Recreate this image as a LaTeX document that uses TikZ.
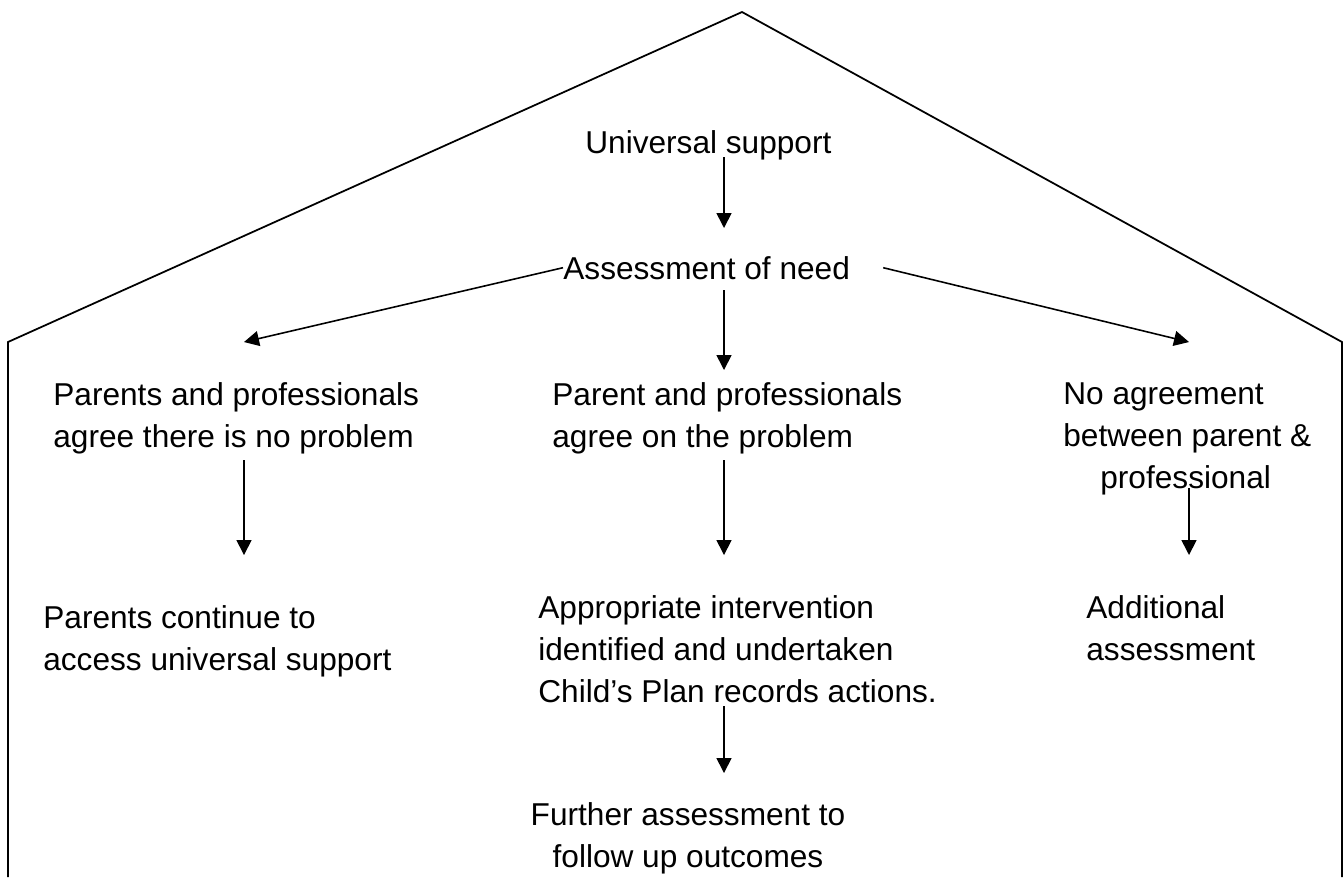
\documentclass[tikz,border=0pt]{standalone}
\usepackage{fontspec}
\setmainfont{Liberation Sans}
\usetikzlibrary{arrows.meta}

\begin{document}
\begin{tikzpicture}[
    x=0.02cm, y=-0.02cm,
    txt/.style={inner sep=0pt, align=left, anchor=base west,
                font=\fontsize{18}{23.9}\selectfont},
    arr/.style={-{Triangle[length=0.3cm, width=0.3cm]}, line width=0.9pt},
    house/.style={line width=1pt, line join=miter},
]
\useasboundingbox (0,0) rectangle (1344,877);

% House outline
\draw[house] (8,877) -- (8,342) -- (742,12) -- (1342,342) -- (1342,877);

% Arrow columns
\coordinate (lx) at (244,0);
\coordinate (mx) at (724,0);
\coordinate (rx) at (1189,0);

% Top
\node[txt] (us) at (585,153) {Universal support};
\node[txt] (aon) at (563,279) {Assessment of need};

% Outcomes of the assessment (placed at last baseline)
\node[txt] (pp) at (53,447) {Parents and professionals\\agree there is no problem};
\node[txt] (pa) at (552,447) {Parent and professionals\\agree on the problem};
\node[txt] (na) at (1063,488) {No agreement\\between parent \&\\\hspace*{0.74cm}professional};

% Follow-on steps
\node[txt] (pc) at (43,670) {Parents continue to\\access universal support};
\node[txt] (ai) at (538,702) {Appropriate intervention\\identified and undertaken\\Child’s Plan records actions.};
\node[txt] (ad) at (1086,660) {Additional\\assessment};
\node[txt, align=center, anchor=base] (fa) at (688,867) {Further assessment to\\follow up outcomes};

% Arrows
\draw[arr] ([yshift=-0.08cm]us.base -| mx) -- ([yshift=1.02cm]aon.base -| mx);
\draw[arr] (aon.west) -- ([yshift=2.1cm]pp.base -| lx);
\draw[arr] ([xshift=0.66cm]aon.east) -- ([yshift=2.92cm]na.base -| rx);
\draw[arr] ([yshift=-0.22cm]aon.base -| mx) -- ([yshift=1.54cm]pa.base -| mx);
\draw[arr] ([yshift=-0.26cm]pp.base -| lx) -- ([yshift=2.3cm]pc.base -| lx);
\draw[arr] ([yshift=-0.26cm]pa.base -| mx) -- ([yshift=2.94cm]ai.base -| mx);
\draw[arr] (na.base -| rx) -- ([yshift=2.1cm]ad.base -| rx);
\draw[arr] ([yshift=-0.08cm]ai.base -| mx) -- ([yshift=1.88cm]fa.base -| mx);

\end{tikzpicture}
\end{document}
